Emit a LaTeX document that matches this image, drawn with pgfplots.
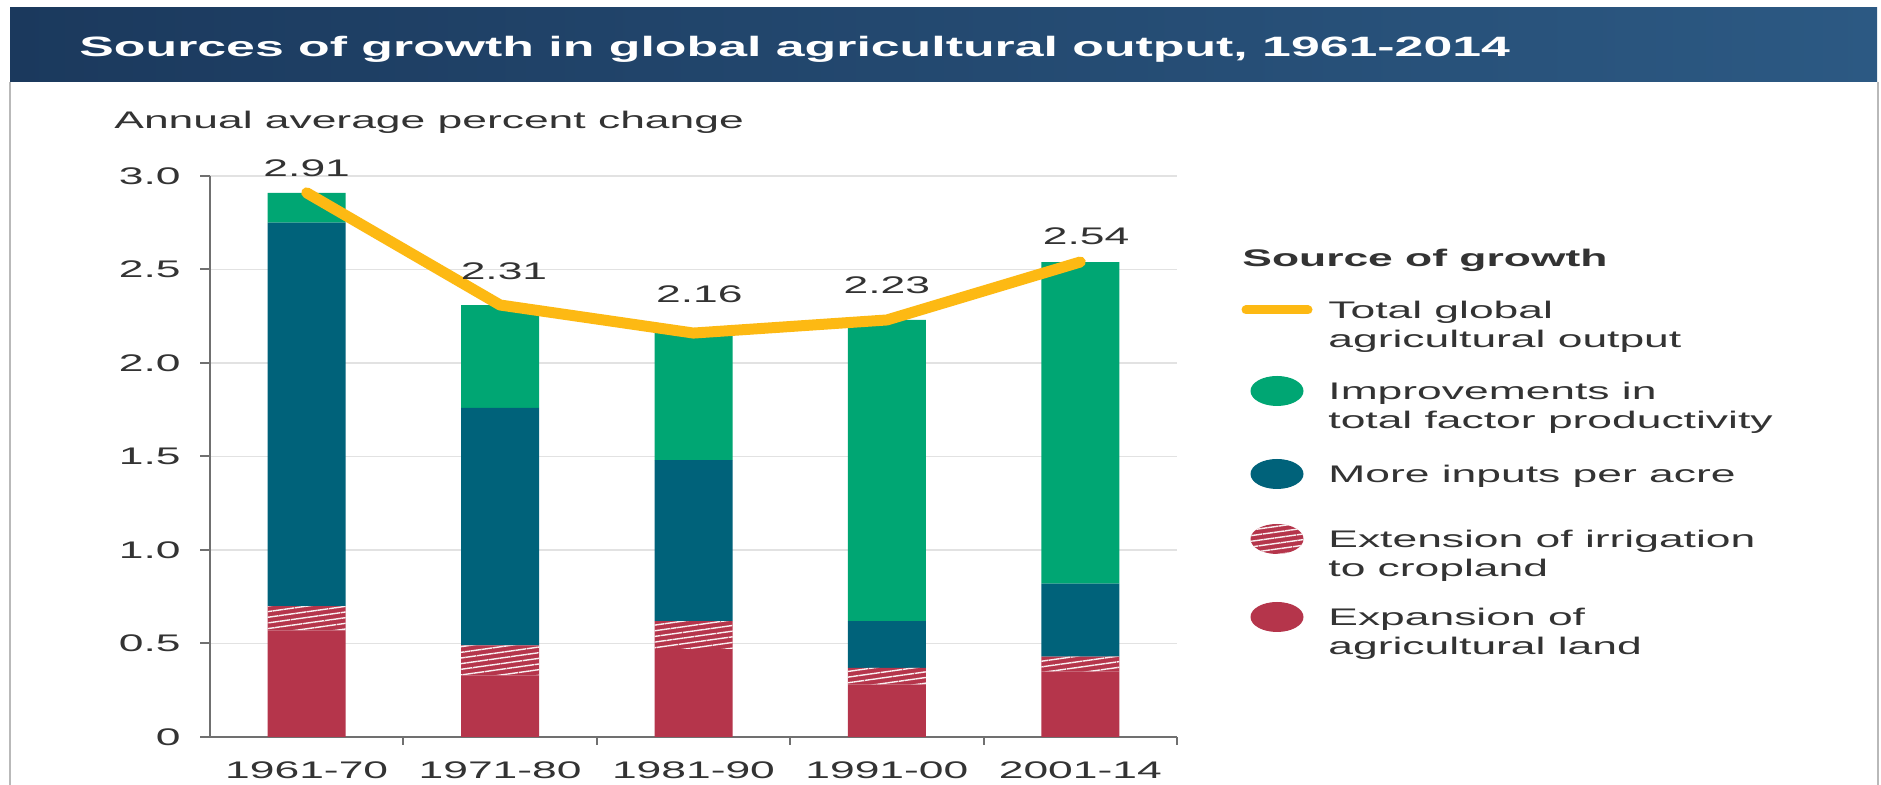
\documentclass[border=0pt]{standalone}
\usepackage{pgfplots}
\pgfplotsset{compat=1.18}
\usepackage{pgfplotstable}
\usepackage{fontspec}
\setmainfont{Liberation Sans}
\usetikzlibrary{patterns.meta}

\definecolor{landred}{RGB}{181,53,75}
\definecolor{inputblue}{RGB}{0,98,122}
\definecolor{tfpgreen}{RGB}{0,166,115}
\definecolor{totalyellow}{RGB}{253,185,19}
\definecolor{gridgray}{RGB}{226,226,226}
\definecolor{axisgray}{RGB}{112,112,112}
\definecolor{textgray}{RGB}{51,51,51}
\definecolor{bannerL}{RGB}{27,57,93}
\definecolor{bannerR}{RGB}{44,89,131}
\definecolor{framegray}{RGB}{185,185,185}

% the source image is stretched sideways, so all text is too
\newcommand{\sx}[1]{\scalebox{1.85}[1]{#1}}
\newcommand{\lbl}{\fontsize{12}{14}\selectfont}

\pgfplotstableread{
x land irr inputs tfp total
0 0.57 0.13 2.05 0.16 2.91
1 0.33 0.16 1.27 0.55 2.31
2 0.47 0.15 0.86 0.68 2.16
3 0.28 0.09 0.25 1.61 2.23
4 0.35 0.08 0.39 1.72 2.54
}\growth

\begin{document}
\begin{tikzpicture}
\useasboundingbox (0pt,0pt) rectangle (940.5pt,392.5pt);
\fill[white] (0pt,0pt) rectangle (940.5pt,392.5pt);
% banner and frame
\shade[left color=bannerL, right color=bannerR] (5pt,351.5pt) rectangle (938.5pt,388.5pt);
\draw[framegray, line width=1pt] (5pt,0pt) -- (5pt,351.5pt);
\draw[framegray, line width=1pt] (939pt,0pt) -- (939pt,351.5pt);
\node[anchor=base west, inner sep=0pt, text=white, font=\fontsize{14}{16}\selectfont\bfseries]
  at (39.5pt,364pt) {\sx{Sources of growth in global agricultural output, 1961-2014}};
\node[anchor=base west, inner sep=0pt, text=textgray, font=\lbl]
  at (57pt,328pt) {\sx{Annual average percent change}};

\begin{axis}[
  at={(105pt,24pt)}, anchor=south west,
  scale only axis, width=483.5pt, height=280.5pt,
  xmin=-0.5, xmax=4.5, ymin=0, ymax=3,
  ybar stacked, bar width=39pt,
  axis x line=bottom, axis y line=left,
  axis line style={-, draw=axisgray, line width=1.3pt},
  xtick={0,1,2,3,4},
  xticklabels={\sx{1961-70},\sx{1971-80},\sx{1981-90},\sx{1991-00},\sx{2001-14}},
  minor xtick={0.5,1.5,2.5,3.5,4.5},
  major x tick style={draw=none},
  minor x tick style={draw=axisgray, line width=1pt},
  ytick={0,0.5,1,1.5,2,2.5,3},
  yticklabels={\sx{0},\sx{0.5},\sx{1.0},\sx{1.5},\sx{2.0},\sx{2.5},\sx{3.0}},
  y tick style={draw=axisgray, line width=1pt},
  tick align=outside, major tick length=5pt, minor tick length=4pt,
  ymajorgrids, grid style={draw=gridgray, line width=0.8pt},
  tick label style={font=\lbl, text=textgray},
  xticklabel style={anchor=north, inner sep=0pt, yshift=-7pt},
  yticklabel style={anchor=east, inner sep=0pt, xshift=-9.5pt},
  ]
  \addplot[fill=landred, draw=none] table[x=x, y=land] {\growth};
  \addplot[fill=landred, draw=none,
    postaction={pattern={Lines[angle=8, distance=2.8pt, line width=0.7pt]}, pattern color=white!92!landred}]
    table[x=x, y=irr] {\growth};
  \addplot[fill=inputblue, draw=none] table[x=x, y=inputs] {\growth};
  \addplot[fill=tfpgreen, draw=none] table[x=x, y=tfp] {\growth};
\end{axis}

\begin{axis}[
  at={(105pt,24pt)}, anchor=south west,
  scale only axis, width=483.5pt, height=280.5pt,
  xmin=-0.5, xmax=4.5, ymin=0, ymax=3,
  hide axis, clip=false,
  ]
  \addplot[totalyellow, line width=5.5pt, line cap=round, line join=round]
    table[x=x, y=total] {\growth};
  \begin{scope}[every node/.style={anchor=base, inner sep=0pt, text=textgray, font=\lbl}]
  \node at (axis cs:0,2.995) {\sx{2.91}};
  \node at (axis cs:1.02,2.444) {\sx{2.31}};
  \node at (axis cs:2.03,2.321) {\sx{2.16}};
  \node at (axis cs:3.0,2.374) {\sx{2.23}};
  \node at (axis cs:4.03,2.631) {\sx{2.54}};
  \end{scope}
\end{axis}

% legend
\begin{scope}[every node/.style={anchor=base west, inner sep=0pt, text=textgray, font=\lbl}]
\node[font=\lbl\bfseries] at (621pt,259pt) {\sx{Source of growth}};
\draw[totalyellow, line width=4.5pt, line cap=round] (623pt,237.5pt) -- (654pt,237.5pt);
\node at (664pt,233.25pt) {\sx{Total global}};
\node at (664pt,218.75pt) {\sx{agricultural output}};
\fill[tfpgreen] (638.5pt,197pt) ellipse [x radius=13.25pt, y radius=7.5pt];
\node at (664pt,192.75pt) {\sx{Improvements in}};
\node at (664pt,178.25pt) {\sx{total factor productivity}};
\fill[inputblue] (638.5pt,155.5pt) ellipse [x radius=13.25pt, y radius=7.5pt];
\node at (664pt,151.25pt) {\sx{More inputs per acre}};
\fill[landred, postaction={pattern={Lines[angle=8, distance=2.8pt, line width=0.7pt]}, pattern color=white!92!landred}]
  (638.5pt,123pt) ellipse [x radius=13.25pt, y radius=7.5pt];
\node at (664pt,118.75pt) {\sx{Extension of irrigation}};
\node at (664pt,104.25pt) {\sx{to cropland}};
\fill[landred] (638.5pt,84pt) ellipse [x radius=13.25pt, y radius=7.5pt];
\node at (664pt,79.75pt) {\sx{Expansion of}};
\node at (664pt,65.25pt) {\sx{agricultural land}};
\end{scope}
\end{tikzpicture}
\end{document}
